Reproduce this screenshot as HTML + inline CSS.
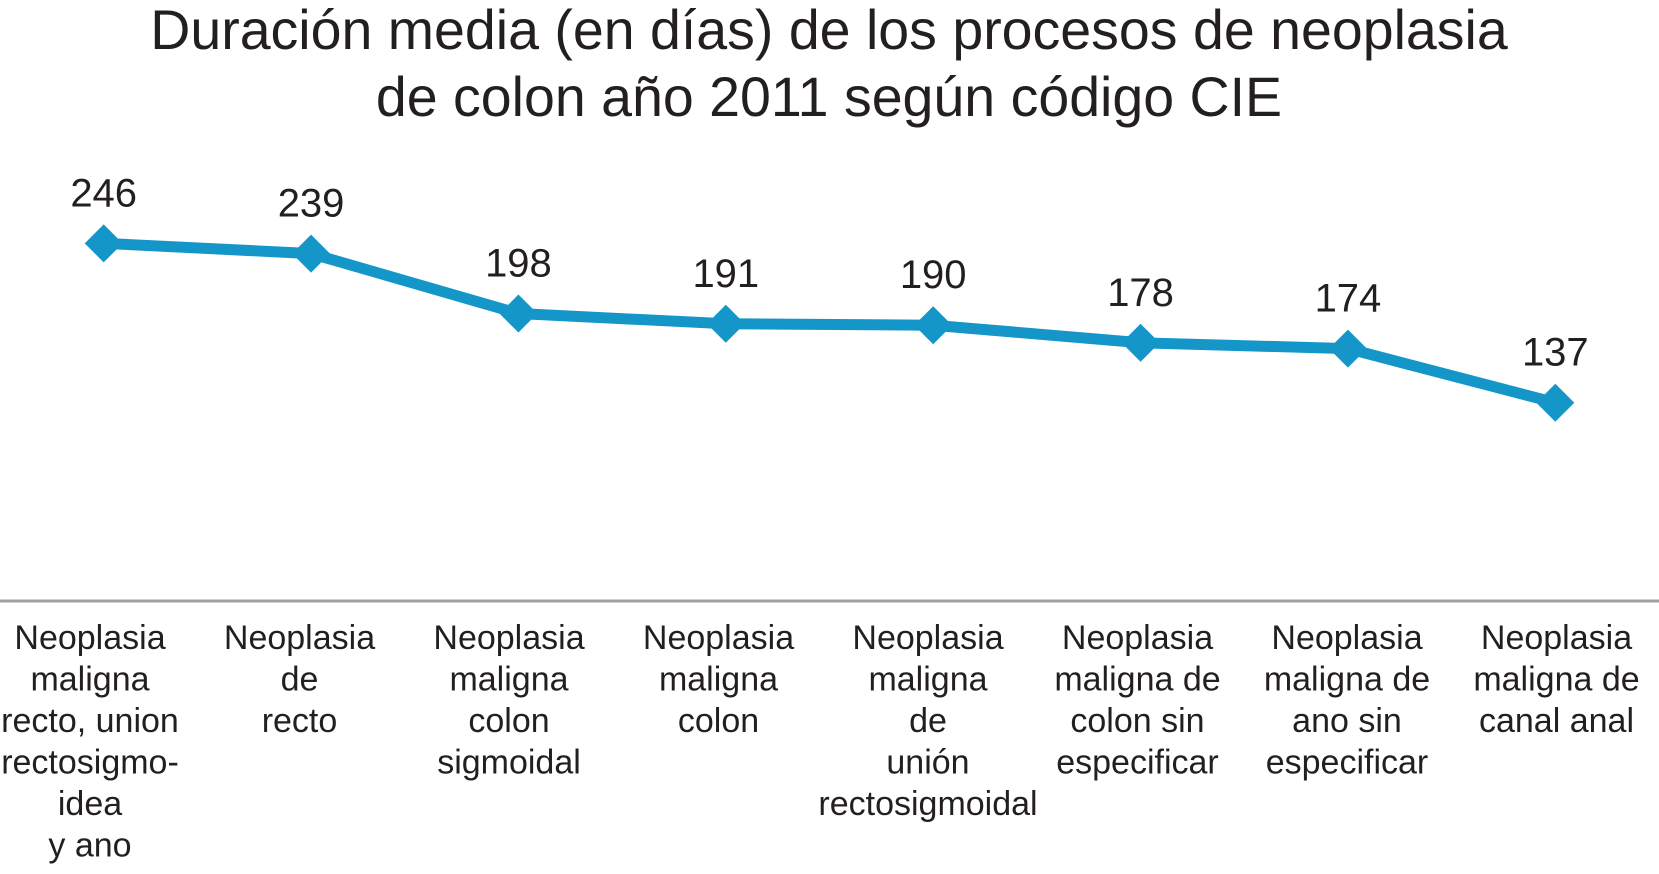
<!DOCTYPE html>
<html><head><meta charset="utf-8"><style>
body{margin:0;background:#fff;}
svg{display:block;font-family:"Liberation Sans",Arial,sans-serif;}
</style></head><body>
<svg id="chart" width="1659" height="874">
<text x="829" y="49" text-anchor="middle" font-size="55.5" fill="#231f20">Duración media (en días) de los procesos de neoplasia</text>
<text x="829" y="116" text-anchor="middle" font-size="55.5" fill="#231f20">de colon año 2011 según código CIE</text>
<line x1="0" y1="601" x2="1659" y2="601" stroke="#a0a0a0" stroke-width="3"/>
<g id="marks"></g>
</svg>
<script>
const categories=[
["Neoplasia","maligna","recto, union","rectosigmo-","idea","y ano"],
["Neoplasia","de","recto"],
["Neoplasia","maligna","colon","sigmoidal"],
["Neoplasia","maligna","colon"],
["Neoplasia","maligna","de","unión","rectosigmoidal"],
["Neoplasia","maligna de","colon sin","especificar"],
["Neoplasia","maligna de","ano sin","especificar"],
["Neoplasia","maligna de","canal anal"]];
const values=[246,239,198,191,190,178,174,137];
const valueLabels=["246","239","198","191","190","178","174","137"];
const NS="http://www.w3.org/2000/svg";
const g=document.getElementById('marks');
const bw=1659/categories.length;
function xs(i){return bw*(i+0.5);}
function ys(v){return 603-v*1.462;}
const pts=values.map((v,i)=>xs(i)+","+ys(v)).join(" ");
const pl=document.createElementNS(NS,'polyline');


pl.setAttribute('points',pts);pl.setAttribute('fill','none');pl.setAttribute('stroke','#1496c9');pl.setAttribute('stroke-width','11');
g.appendChild(pl);
values.forEach((v,i)=>{
 const x=xs(i),y=ys(v);
 const d=document.createElementNS(NS,'polygon');
 
 
 d.setAttribute('points',`${x},${y-19} ${x+19},${y} ${x},${y+19} ${x-19},${y}`);
 d.setAttribute('fill','#1496c9');g.appendChild(d);
 const t=document.createElementNS(NS,'text');
 
 
 t.setAttribute('x',x);t.setAttribute('y',y-37);t.setAttribute('text-anchor','middle');
 t.setAttribute('font-size','40');t.setAttribute('fill','#231f20');t.textContent=valueLabels[i];g.appendChild(t);
 categories[i].forEach((line,j)=>{
  const c=document.createElementNS(NS,'text');
  
  
  c.setAttribute('x',90+209.5*i);c.setAttribute('y',649+j*41.5);c.setAttribute('text-anchor','middle');
  c.setAttribute('font-size','34');c.setAttribute('fill','#231f20');c.textContent=line;g.appendChild(c);
 });
});
</script>
</body></html>
